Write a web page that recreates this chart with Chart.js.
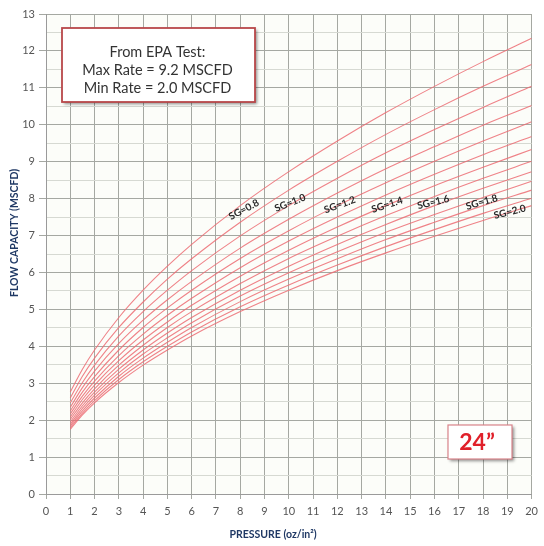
<!DOCTYPE html>
<html>
<head>
<meta charset="utf-8">
<script src="https://cdn.jsdelivr.net/npm/chart.js@4.4.1/dist/chart.umd.min.js"></script>
<style>
  html, body { margin: 0; padding: 0; background: #ffffff; }
  #wrap { width: 544px; height: 546px; position: relative; }
</style>
</head>
<body>
<div id="wrap"><canvas id="c" width="544" height="546"></canvas></div>
<script>
// ---- Data ----
const pressure = [1, 1.5, 2, 3, 4, 5, 6, 8, 10, 12, 14, 16, 18, 20];
const sgValues = ['0.8', '0.9', '1.0', '1.1', '1.2', '1.3', '1.4', '1.5', '1.6', '1.7', '1.8', '1.9', '2.0'];
const flowSG08 = [2.76, 3.38, 3.90, 4.78, 5.52, 6.17, 6.76, 7.81, 8.73, 9.56, 10.33, 11.04, 11.71, 12.34];
const flowSG09 = [2.60, 3.19, 3.68, 4.51, 5.20, 5.82, 6.37, 7.36, 8.23, 9.01, 9.74, 10.41, 11.04, 11.63];
const flowSG10 = [2.47, 3.02, 3.49, 4.28, 4.94, 5.52, 6.05, 6.99, 7.81, 8.55, 9.24, 9.87, 10.47, 11.04];
const flowSG11 = [2.35, 2.88, 3.33, 4.08, 4.71, 5.26, 5.76, 6.66, 7.44, 8.15, 8.81, 9.41, 9.99, 10.52];
const flowSG12 = [2.25, 2.76, 3.18, 3.90, 4.51, 5.04, 5.52, 6.38, 7.13, 7.81, 8.43, 9.01, 9.56, 10.08];
const flowSG13 = [2.17, 2.65, 3.06, 3.75, 4.33, 4.84, 5.30, 6.13, 6.85, 7.50, 8.10, 8.66, 9.19, 9.68];
const flowSG14 = [2.09, 2.56, 2.95, 3.61, 4.17, 4.66, 5.11, 5.90, 6.60, 7.23, 7.81, 8.35, 8.85, 9.33];
const flowSG15 = [2.02, 2.47, 2.85, 3.49, 4.03, 4.51, 4.94, 5.70, 6.38, 6.98, 7.54, 8.06, 8.55, 9.01];
const flowSG16 = [1.95, 2.39, 2.76, 3.38, 3.90, 4.36, 4.78, 5.52, 6.17, 6.76, 7.30, 7.81, 8.28, 8.73];
const flowSG17 = [1.89, 2.32, 2.68, 3.28, 3.79, 4.23, 4.64, 5.36, 5.99, 6.56, 7.09, 7.57, 8.03, 8.47];
const flowSG18 = [1.84, 2.25, 2.60, 3.19, 3.68, 4.11, 4.51, 5.21, 5.82, 6.37, 6.89, 7.36, 7.81, 8.23];
const flowSG19 = [1.79, 2.19, 2.53, 3.10, 3.58, 4.00, 4.39, 5.07, 5.66, 6.20, 6.70, 7.16, 7.60, 8.01];
const flowSG20 = [1.75, 2.14, 2.47, 3.02, 3.49, 3.90, 4.28, 4.94, 5.52, 6.05, 6.53, 6.98, 7.41, 7.81];
const flowSeries = [flowSG08, flowSG09, flowSG10, flowSG11, flowSG12, flowSG13, flowSG14,
                    flowSG15, flowSG16, flowSG17, flowSG18, flowSG19, flowSG20];
const xTickLabels = ['0','1','2','3','4','5','6','7','8','9','10','11','12','13','14','15','16','17','18','19','20'];
const yTickLabels = ['0','1','2','3','4','5','6','7','8','9','10','11','12','13'];
const curveLabelText = ['SG=0.8', 'SG=1.0', 'SG=1.2', 'SG=1.4', 'SG=1.6', 'SG=1.8', 'SG=2.0'];
const infoLines = ['From EPA Test:', 'Max Rate = 9.2 MSCFD', 'Min Rate = 2.0 MSCFD'];
const sizeLabel = '24\u201D';
const xTitle = 'PRESSURE (oz/in\u00B2)';
const yTitle = 'FLOW CAPACITY (MSCFD)';

// ---- Annotation placement (in data units) ----
const curveLabelAt = [
  {x: 8.15, y: 7.70, rot: -28},
  {x: 10.05, y: 7.88, rot: -22},
  {x: 12.1, y: 7.83, rot: -20},
  {x: 14.05, y: 7.83, rot: -18},
  {x: 15.95, y: 7.90, rot: -14},
  {x: 17.95, y: 7.90, rot: -16},
  {x: 19.1, y: 7.64, rot: -14}
];

const FONT = 'Lato, "Open Sans", "Liberation Sans", sans-serif';
const EM = '\u2003';

const datasets = flowSeries.map((vals, i) => ({
  label: 'SG=' + sgValues[i],
  data: pressure.map((p, j) => ({x: p, y: vals[j]})),
  borderColor: 'rgba(236, 108, 115, 0.85)',
  borderWidth: 1.1,
  pointRadius: 0,
  fill: false,
  cubicInterpolationMode: 'monotone'
}));

const overlay = {
  id: 'overlay',
  beforeDraw(chart) {
    const {ctx, chartArea: a} = chart;
    ctx.save();
    ctx.fillStyle = '#fcfdf9';
    ctx.fillRect(a.left, a.top, a.right - a.left, a.bottom - a.top);
    ctx.restore();
  },
  afterDraw(chart) {
    const {ctx, scales: {x, y}} = chart;
    ctx.save();
    // y axis title (placed next to the 4.8..8.8 span of the axis)
    ctx.save();
    ctx.fillStyle = '#1f3864';
    ctx.font = 'bold 10.5px ' + FONT;
    ctx.textAlign = 'center';
    ctx.textBaseline = 'middle';
    ctx.translate(15, y.getPixelForValue(7.07));
    ctx.rotate(-Math.PI / 2);
    ctx.fillText(yTitle, 0, 0);
    ctx.restore();

    // curve labels
    ctx.fillStyle = '#2a2a2a';
    ctx.font = 'bold 10px ' + FONT;
    ctx.textAlign = 'center';
    ctx.textBaseline = 'middle';
    curveLabelText.forEach((t, i) => {
      const p = curveLabelAt[i];
      ctx.save();
      ctx.translate(x.getPixelForValue(p.x), y.getPixelForValue(p.y));
      ctx.rotate(p.rot * Math.PI / 180);
      ctx.fillText(t, 0, 0);
      ctx.restore();
    });

    // info box
    const bx = 62, by = 28, bw = 193, bh = 74;
    ctx.save();
    ctx.shadowColor = 'rgba(0,0,0,0.45)';
    ctx.shadowBlur = 3;
    ctx.shadowOffsetX = 2;
    ctx.shadowOffsetY = 2;
    ctx.fillStyle = '#ffffff';
    ctx.fillRect(bx, by, bw, bh);
    ctx.restore();
    ctx.strokeStyle = '#b8474a';
    ctx.lineWidth = 1.8;
    ctx.strokeRect(bx, by, bw, bh);
    ctx.fillStyle = '#333333';
    ctx.font = '14.5px ' + FONT;
    ctx.textAlign = 'center';
    infoLines.forEach((t, i) => ctx.fillText(t, bx + bw / 2 - 1, 52 + i * 18));

    // size box
    const sx = 448, sy = 425, sw = 64, sh = 34;
    ctx.save();
    ctx.shadowColor = 'rgba(0,0,0,0.45)';
    ctx.shadowBlur = 3;
    ctx.shadowOffsetX = 2;
    ctx.shadowOffsetY = 2;
    ctx.fillStyle = '#ffffff';
    ctx.fillRect(sx, sy, sw, sh);
    ctx.restore();
    ctx.strokeStyle = '#d9848a';
    ctx.lineWidth = 1.2;
    ctx.strokeRect(sx, sy, sw, sh);
    ctx.fillStyle = '#e0202a';
    ctx.font = 'bold 23px ' + FONT;
    ctx.fillText(sizeLabel, sx + sw / 2 - 3, sy + sh / 2 + 1);
    ctx.restore();
  }
};

new Chart(document.getElementById('c'), {
  type: 'line',
  data: { datasets },
  plugins: [overlay],
  options: {
    responsive: false,
    animation: false,
    devicePixelRatio: 1,
    layout: { padding: { top: 14, right: 12, left: 0, bottom: 0 } },
    plugins: { legend: { display: false }, tooltip: { enabled: false } },
    scales: {
      x: {
        type: 'linear',
        min: 0, max: 20,
        afterFit: s => { s.height = 52; },
        ticks: {
          stepSize: 1, autoSkip: false, maxRotation: 0,
          color: '#555555', font: { family: FONT, size: 11 }, padding: 6,
          callback: v => xTickLabels[v] !== undefined ? xTickLabels[v] : ''
        },
        grid: { color: '#a5a8a2', lineWidth: 1, tickLength: 5, tickColor: '#a5a8a2' },
        border: { color: '#9a9a9a', width: 1 },
        title: {
          display: true, text: xTitle + EM + EM + EM + EM,
          color: '#1f3864', font: { family: FONT, size: 10.5, weight: 'bold' },
          padding: { top: 0, bottom: 5 }
        }
      },
      y: {
        type: 'linear',
        min: 0, max: 13,
        afterFit: s => { s.width = 46; },
        ticks: {
          stepSize: 0.5, autoSkip: false,
          color: '#555555', font: { family: FONT, size: 11 }, padding: 4,
          callback: v => Number.isInteger(v) ? yTickLabels[v] : ''
        },
        grid: {
          color: c => Number.isInteger(c.tick.value) ? '#a5a8a2' : '#d6d9d2',
          tickColor: c => Number.isInteger(c.tick.value) ? '#a5a8a2' : 'rgba(0,0,0,0)',
          lineWidth: 1, tickLength: 7
        },
        border: { color: '#9a9a9a', width: 1 },
        title: { display: false }
      }
    }
  }
});
</script>
</body>
</html>
